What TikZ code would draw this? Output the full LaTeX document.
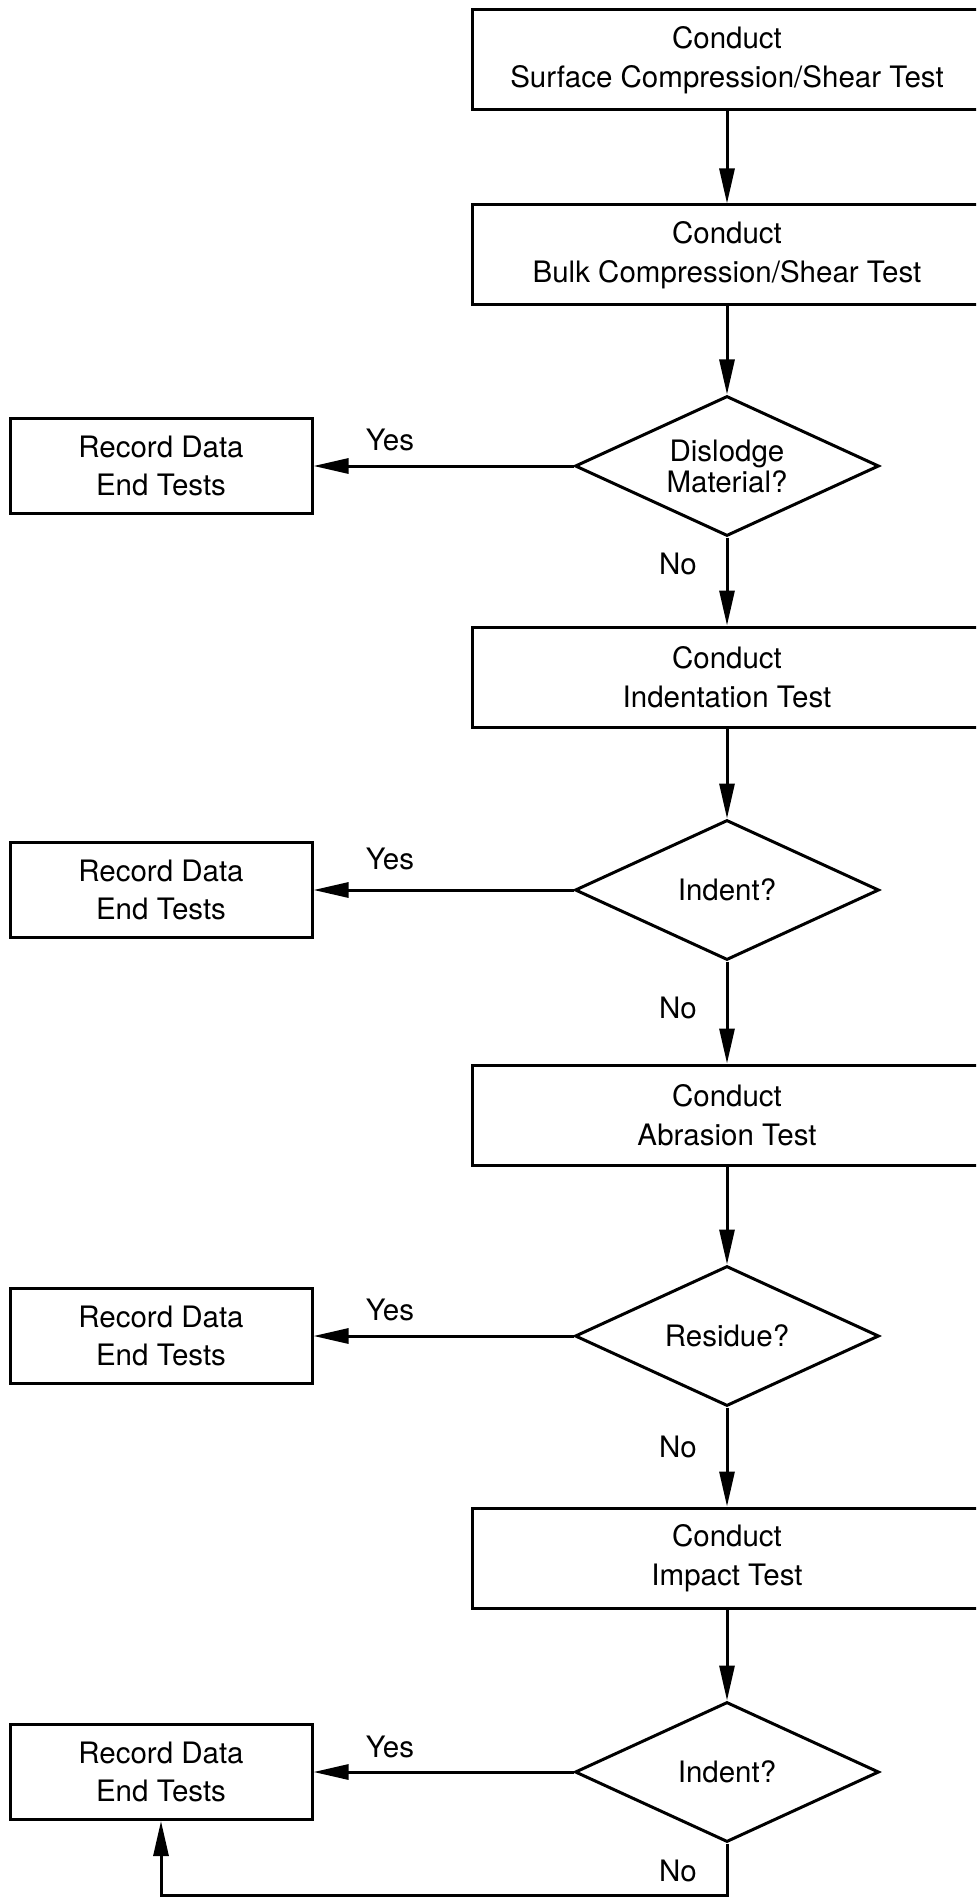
\documentclass[tikz,border=0pt]{standalone}
\usepackage{fontspec}
\setmainfont{TeX Gyre Heros}
\usetikzlibrary{shapes.geometric,arrows.meta}
\begin{document}
\begin{tikzpicture}[x=0.5pt,y=-0.5pt,
  every node/.style={font=\fontsize{14.75pt}{19.5pt}\selectfont},
  procbox/.style={draw,line width=1.5pt,minimum width=255pt,minimum height=50pt,inner sep=0pt,align=center},
  recbox/.style={draw,line width=1.5pt,minimum width=151pt,minimum height=47.5pt,inner sep=0pt,align=center,font=\fontsize{14.75pt}{19pt}\selectfont},
  decision/.style={draw,diamond,line width=1.5pt,minimum width=152pt,minimum height=70pt,inner sep=0pt,shape aspect=2.2,align=center,font=\fontsize{14.75pt}{15.5pt}\selectfont},
  arr/.style={line width=1.5pt,-{Triangle[length=17.5pt,width=7.5pt]}},
  lbl/.style={inner sep=0pt}]
\useasboundingbox (0,0) rectangle (976,1899);
\clip (0,0) rectangle (976,1899);

% main column
\node[procbox] (box1) at (727,60) {Conduct\\Surface Compression/Shear Test};
\node[procbox] (box2) at (727,255) {Conduct\\Bulk Compression/Shear Test};
\node[decision] (dia1) at (727,466) {Dislodge\\Material?};
\node[procbox] (box3) at (727,677) {Conduct\\Indentation Test};
\node[decision] (dia2) at (727,890) {Indent?};
\node[procbox] (box4) at (727,1115) {Conduct\\Abrasion Test};
\node[decision] (dia3) at (727,1336) {Residue?};
\node[procbox] (box5) at (727,1558) {Conduct\\Impact Test};
\node[decision] (dia4) at (727,1772) {Indent?};

% record boxes
\node[recbox] (rec1) at (161,466) {Record Data\\End Tests};
\node[recbox] (rec2) at (161,890) {Record Data\\End Tests};
\node[recbox] (rec3) at (161,1336) {Record Data\\End Tests};
\node[recbox] (rec4) at (161,1772) {Record Data\\End Tests};

% labels
\node[lbl] (y1) at (390,440) {Yes};
\node[lbl] (y2) at (390,859) {Yes};
\node[lbl] (y3) at (390,1310) {Yes};
\node[lbl] (y4) at (390,1747) {Yes};
\node[lbl] (n1) at (678,564) {No};
\node[lbl] (n2) at (678,1008) {No};
\node[lbl] (n3) at (678,1447) {No};
\node[lbl] (n4) at (678,1871) {No};

% connectors
\draw[arr] (box1) -- (box2);
\draw[arr] (box2) -- (dia1);
\draw[arr] (dia1.west) -- (rec1.east);
\draw[arr] (dia1) -- (box3);
\draw[arr] (box3) -- (dia2);
\draw[arr] (dia2.west) -- (rec2.east);
\draw[arr] (dia2) -- (box4);
\draw[arr] (box4) -- (dia3);
\draw[arr] (dia3.west) -- (rec3.east);
\draw[arr] (dia3) -- (box5);
\draw[arr] (box5) -- (dia4);
\draw[arr] (dia4.west) -- (rec4.east);
\coordinate (bot) at (727,1895);
\draw[arr] (dia4.south) -- (bot) -| (rec4.south);
\end{tikzpicture}
\end{document}
